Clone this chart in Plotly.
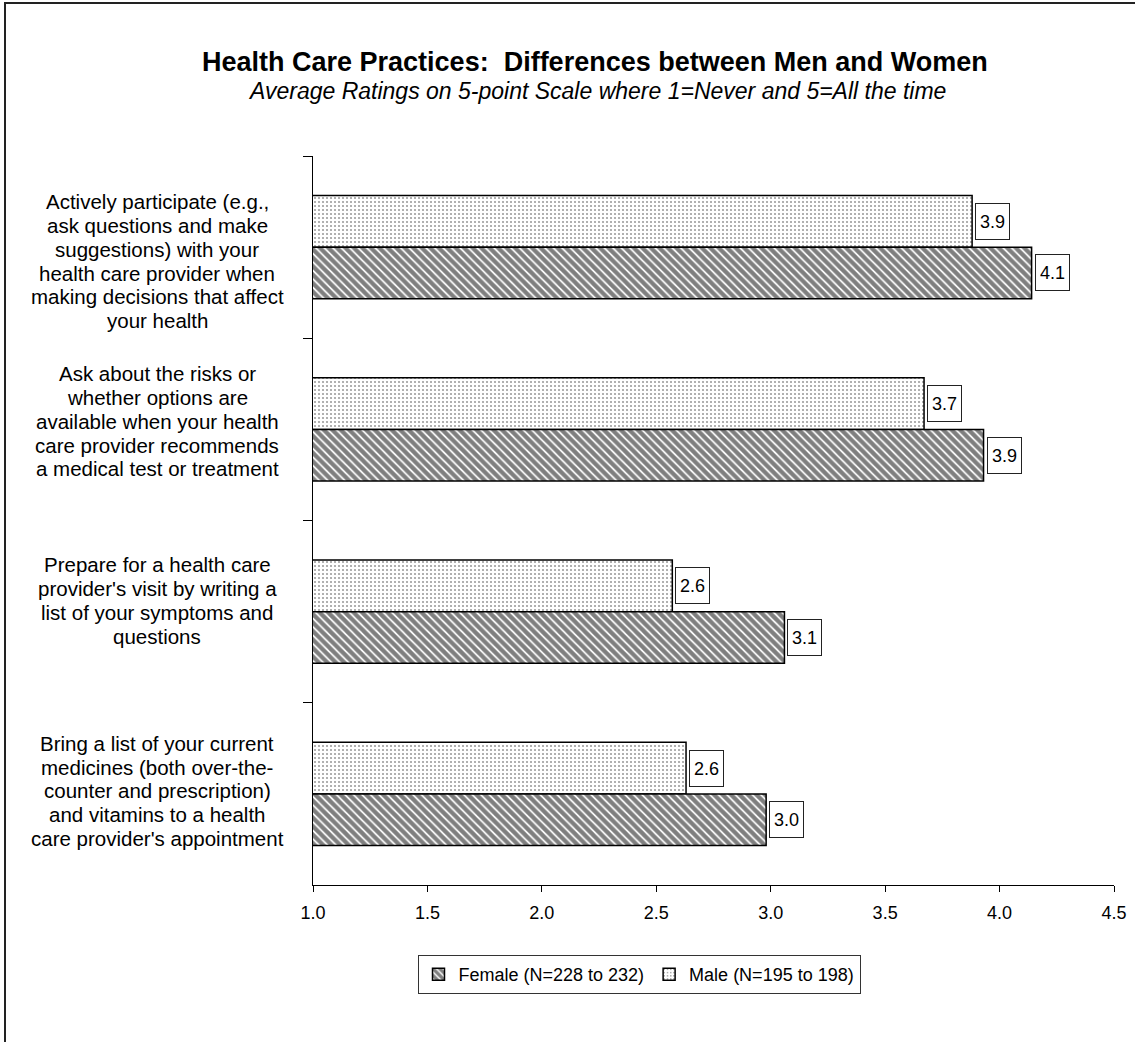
import plotly.graph_objects as go

# Survey items (top to bottom) and average ratings on the 1-5 scale
categories = [
    "Actively participate (e.g.,<br>ask questions and make<br>suggestions) with your<br>health care provider when<br>making decisions that affect<br>your health",
    "Ask about the risks or<br>whether options are<br>available when your health<br>care provider recommends<br>a medical test or treatment",
    "Prepare for a health care<br>provider's visit by writing a<br>list of your symptoms and<br>questions",
    "Bring a list of your current<br>medicines (both over-the-<br>counter and prescription)<br>and vitamins to a health<br>care provider's appointment",
]
female_values = [4.14, 3.93, 3.06, 2.98]
male_values = [3.88, 3.67, 2.57, 2.63]

female_name = "Female (N=228 to 232)"
male_name = "Male (N=195 to 198)"

title_text = "Health Care Practices:  Differences between Men and Women"
subtitle_text = "Average Ratings on 5-point Scale where 1=Never and 5=All the time"

x_ticks = [1.0, 1.5, 2.0, 2.5, 3.0, 3.5, 4.0, 4.5]

# Page geometry
W, H = 1135, 1042
ML, MR, MT, MB = 313, 21, 156, 157
PW, PH = W - ML - MR, H - MT - MB
BARGAP = 0.434

FONT = "Arial, 'Liberation Sans', sans-serif"

# Category label layout: line spacing and per-block vertical nudge (px, + = down)
LABEL_LINE_PX = 23.8
LABEL_NUDGE_PX = [14, -8, -11, -3]


def px_x(px):
    return (px - ML) / PW


def px_y(py):
    return (H - MB - py) / PH


fig = go.Figure()

fig.add_trace(go.Bar(
    y=categories, x=male_values, orientation="h", name=male_name,
    marker=dict(color="white", line=dict(color="black", width=1.5),
                pattern=dict(shape=".", size=4, solidity=0.22, fgcolor="#3a3a3a")),
    legendrank=2,
))
fig.add_trace(go.Bar(
    y=categories, x=female_values, orientation="h", name=female_name,
    marker=dict(color="white", line=dict(color="black", width=1.5),
                pattern=dict(shape="\\", size=6, solidity=0.7, fgcolor="black")),
    legendrank=1,
))

annotations = []

# Value labels in boxes just past the bar ends
cat_px = PH / len(categories)
bar_px = cat_px * (1 - BARGAP) / 2
for vals, shift in ((male_values, bar_px / 2), (female_values, -bar_px / 2)):
    for cat, v in zip(categories, vals):
        annotations.append(dict(
            x=v, y=cat, xref="x", yref="y", text=f"{v:.1f}", showarrow=False,
            xanchor="left", yanchor="middle", xshift=3, yshift=shift,
            font=dict(family=FONT, size=18, color="black"),
            width=25, height=27, align="center", valign="middle",
            bgcolor="white", bordercolor="#222", borderwidth=1, borderpad=4,
        ))

# Category labels, centred to the left of the axis, one annotation per line
for cat, nudge in zip(categories, LABEL_NUDGE_PX):
    lines = cat.split("<br>")
    n = len(lines)
    for i, line in enumerate(lines):
        dy = nudge + (i - (n - 1) / 2) * LABEL_LINE_PX
        annotations.append(dict(
            x=px_x(157), y=cat, xref="paper", yref="y", text=line, showarrow=False,
            xanchor="center", yanchor="middle", yshift=-dy,
            font=dict(family=FONT, size=20.5, color="black"),
        ))

# Title and subtitle
annotations.append(dict(
    x=px_x(595), y=px_y(62), xref="paper", yref="paper", text=f"<b>{title_text}</b>",
    showarrow=False, xanchor="center", yanchor="middle",
    font=dict(family=FONT, size=27, color="black"),
))
annotations.append(dict(
    x=px_x(597), y=px_y(91), xref="paper", yref="paper", text=f"<i>{subtitle_text}</i>",
    showarrow=False, xanchor="center", yanchor="middle",
    font=dict(family=FONT, size=23, color="black"),
))

fig.update_layout(
    width=W, height=H,
    margin=dict(l=ML, r=MR, t=MT, b=MB, autoexpand=False),
    paper_bgcolor="white", plot_bgcolor="white",
    barmode="group", bargap=BARGAP, bargroupgap=0,
    font=dict(family=FONT, size=18, color="black"),
    showlegend=True,
    legend=dict(
        orientation="h", x=px_x(639), xanchor="center", y=px_y(955), yanchor="top",
        bordercolor="#333", borderwidth=1, bgcolor="white",
        font=dict(family=FONT, size=18, color="black"),
        itemwidth=30, traceorder="normal",
    ),
    xaxis=dict(
        range=[1.0, 4.5], tickvals=x_ticks, ticktext=[f"{t:.1f}" for t in x_ticks],
        showgrid=False, zeroline=False, showline=True, linecolor="black", linewidth=1,
        ticks="outside", ticklen=6, tickcolor="black", tickwidth=1,
        ticklabelstandoff=5,
        tickfont=dict(family=FONT, size=18, color="black"),
    ),
    yaxis=dict(
        autorange="reversed", showticklabels=False, showgrid=False, zeroline=False,
        showline=True, linecolor="black", linewidth=1,
        ticks="outside", tickson="boundaries", ticklen=9, tickcolor="black", tickwidth=1,
    ),
    annotations=annotations,
    shapes=[dict(
        type="rect", xref="paper", yref="paper",
        x0=px_x(5), x1=px_x(W + 10), y0=px_y(H + 10), y1=px_y(3),
        line=dict(color="#222", width=2), fillcolor="rgba(0,0,0,0)", layer="below",
    )],
)

fig.write_html("out.html")
